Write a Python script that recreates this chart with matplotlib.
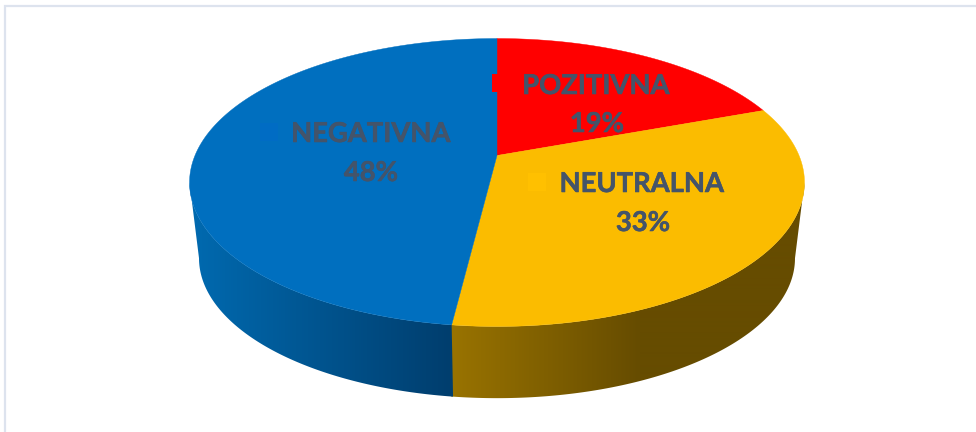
import numpy as np
import matplotlib
matplotlib.use("Agg")
import matplotlib.pyplot as plt
import matplotlib.patheffects as pe
from matplotlib.patches import Polygon, Rectangle

categories = ["POZITIVNA", "NEUTRALNA", "NEGATIVNA"]
shares = [19.4, 32.55, 48.05]

top_colors = ["#FF0000", "#FBBC00", "#006FBF"]
key_colors = ["#FF0000", "#FFC000", "#006CC4"]
side_dark = [(0.45, 0.0, 0.0), (102/255, 76/255, 0.0), (0.0, 62/255, 110/255)]
side_light = [(0.7, 0.0, 0.0), (153/255, 115/255, 0.0), (0.0, 106/255, 176/255)]
ramp_x = [(452, 640), (452, 640), (190, 450)]
label_pos = [(596, 86), (642, 184), (371, 134)]
pct_pos = [(597, 124), (643, 223), (371, 173)]
key_pos = [(492, 74), (528, 173), (260, 123)]
TEXT = "#44546A"

# perspective disc parameters in pixels
CX, K = 497.0, 0.1875
TOP = dict(A=302.0, B=138.9, Y=155.5)
BOT = dict(A=292.7, B=135.0, Y=232.0)


def project(theta, p):
    u, v = np.sin(theta), np.cos(theta)
    d = 1 + K * v
    return CX + p["A"] * u / d, p["Y"] - p["B"] * v / d


fig = plt.figure(figsize=(9.76, 4.32), dpi=100, facecolor="white")
ax = fig.add_axes([0, 0, 1, 1])
ax.axis("off")

edges = np.cumsum([0] + shares) / sum(shares) * 2 * np.pi
silhouette = np.arccos(-K)

# side wall, shaded left to right with an image clipped to each slice's wall
for i in range(len(shares)):
    lo = max(edges[i], silhouette)
    hi = min(edges[i + 1], 2 * np.pi - silhouette)
    if hi <= lo:
        continue
    # walls overlap a little under the next slice so that no seam shows
    th = np.linspace(lo, min(hi + 0.006, 2 * np.pi - silhouette), 300)
    x0, y0 = project(th, TOP)
    x1, y1 = project(th, BOT)
    outline = np.vstack([np.column_stack([x0, y0]), np.column_stack([x1, y1])[::-1]])
    xs = np.arange(976) + 0.5
    t = np.clip((xs - ramp_x[i][0]) / (ramp_x[i][1] - ramp_x[i][0]), 0, 1)[:, None]
    grad = (1 - t) * np.array(side_light[i]) + t * np.array(side_dark[i])
    im = ax.imshow(grad[None, :, :], extent=(0, 976, 432, 0), aspect="auto", zorder=2 + 0.1 * i,
                   interpolation="bilinear")
    clip = Polygon(outline, closed=True, transform=ax.transData, facecolor="none", edgecolor="none")
    ax.add_patch(clip)
    im.set_clip_path(clip)

ax.set_xlim(0, 976)
ax.set_ylim(432, 0)

# frame
ax.plot([5, 5, 976], [432, 5.5, 5.5], color="#DDE3EE", lw=1.6, solid_joinstyle="miter", zorder=1)

# top face
for i in range(len(shares)):
    th = np.linspace(edges[i], edges[i + 1], 300)
    x, y = project(th, TOP)
    pts = np.vstack([[CX, TOP["Y"]], np.column_stack([x, y])])
    ax.add_patch(Polygon(pts, closed=True, facecolor=top_colors[i], edgecolor=top_colors[i], lw=0.3, zorder=3))

# labels
stroke = [pe.withStroke(linewidth=0.4, foreground=TEXT)]
font = dict(family="Lato", weight="bold", color=TEXT, ha="center", va="center", zorder=5,
            path_effects=stroke)
for i, name in enumerate(categories):
    ax.text(*label_pos[i], name, fontsize=19.7, **font)
    ax.text(*pct_pos[i], f"{round(shares[i])}%", fontsize=19.7, **font)
    ax.add_patch(Rectangle(key_pos[i], 18, 18, facecolor=key_colors[i], edgecolor="none", zorder=4))

fig.savefig("out.png", dpi=100, facecolor="white")
